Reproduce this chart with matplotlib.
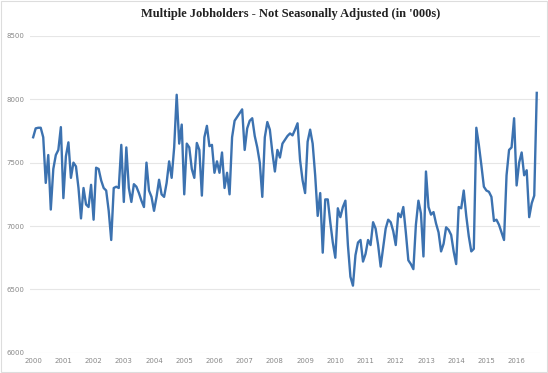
import matplotlib
matplotlib.use("Agg")
import matplotlib.pyplot as plt
import numpy as np

# monthly values, Jan 2000 - Sep 2016 (thousands)
y2000 = [7700, 7770, 7775, 7775, 7700, 7340, 7560, 7130, 7450, 7560, 7600, 7780]
y2001 = [7220, 7550, 7660, 7380, 7500, 7470, 7300, 7060, 7300, 7170, 7150, 7325]
y2002 = [7050, 7460, 7450, 7360, 7300, 7280, 7120, 6890, 7300, 7310, 7300, 7640]
y2003 = [7190, 7620, 7300, 7190, 7330, 7310, 7260, 7200, 7150, 7500, 7280, 7230]
y2004 = [7120, 7230, 7365, 7250, 7230, 7340, 7510, 7380, 7620, 8035, 7650, 7800]
y2005 = [7250, 7650, 7620, 7450, 7380, 7655, 7600, 7240, 7700, 7790, 7630, 7640]
y2006 = [7420, 7510, 7420, 7580, 7300, 7420, 7250, 7700, 7830, 7860, 7890, 7920]
y2007 = [7600, 7770, 7830, 7850, 7710, 7620, 7500, 7230, 7700, 7820, 7760, 7580]
y2008 = [7430, 7600, 7540, 7650, 7680, 7710, 7730, 7715, 7760, 7810, 7520, 7360]
y2009 = [7260, 7665, 7760, 7650, 7400, 7080, 7260, 6790, 7210, 7210, 7030, 6870]
y2010 = [6750, 7140, 7070, 7150, 7200, 6850, 6600, 6530, 6770, 6870, 6890, 6720]
y2011 = [6780, 6890, 6850, 7030, 6980, 6850, 6680, 6830, 6980, 7050, 7030, 6960]
y2012 = [6850, 7100, 7070, 7150, 6950, 6730, 6700, 6660, 7010, 7200, 7100, 6760]
y2013 = [7430, 7150, 7090, 7110, 7020, 6950, 6800, 6860, 6990, 6970, 6930, 6800]
y2014 = [6700, 7150, 7140, 7280, 7080, 6920, 6800, 6820, 7775, 7640, 7480, 7310]
y2015 = [7280, 7270, 7230, 7040, 7050, 7010, 6950, 6890, 7400, 7600, 7620, 7850]
y2016 = [7320, 7500, 7580, 7400, 7440, 7070, 7180, 7240, 8050]

values = (y2000 + y2001 + y2002 + y2003 + y2004 + y2005 + y2006 + y2007 + y2008
          + y2009 + y2010 + y2011 + y2012 + y2013 + y2014 + y2015 + y2016)
years = list(range(2000, 2017))
y_ticks = [6000, 6500, 7000, 7500, 8000, 8500]

months = np.arange(len(values))

fig = plt.figure(figsize=(5.48, 3.73), dpi=100)
ax = fig.add_axes([0.055, 0.054, 0.93, 0.85])

for t in y_ticks:
    ax.axhline(t, color="#e6e6e6", lw=0.8, zorder=0)
ax.plot(months, values, color="#3c72b0", lw=1.7, solid_joinstyle="round")

ax.set_xlim(-1.2, 201.2)
ax.set_ylim(6000, 8500)
ax.set_yticks(y_ticks)
ax.set_yticklabels([str(t) for t in y_ticks], fontsize=5, color="#888888")
ax.set_xticks([12 * i for i in range(len(years))])
ax.set_xticklabels([str(y) for y in years], fontsize=5, color="#888888")
ax.tick_params(length=0, pad=4)
for s in ax.spines.values():
    s.set_visible(False)

fig.text(0.53, 0.963, "Multiple Jobholders - Not Seasonally Adjusted (in '000s)",
         ha="center", va="center", fontsize=9, fontweight="bold",
         family="Liberation Serif", color="#222222")

fig.patches.append(plt.Rectangle((0.002, 0.002), 0.996, 0.996, transform=fig.transFigure,
                                 fill=False, edgecolor="#dddddd", lw=0.8))

fig.savefig("out.png", dpi=100)
